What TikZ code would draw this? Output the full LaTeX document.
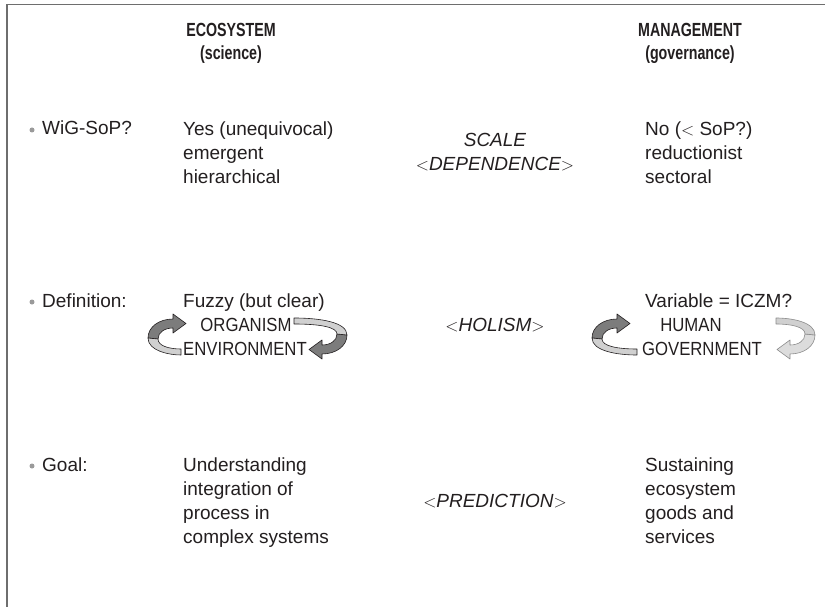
\documentclass[tikz,border=0pt]{standalone}
\usepackage{fontspec}
\setmainfont{Liberation Sans}
\definecolor{ink}{HTML}{231F20}
\definecolor{framegray}{HTML}{6E6E6E}
\definecolor{dotgray}{HTML}{9A9A9A}
\definecolor{ribdark}{HTML}{7C7C7C}
\definecolor{riblight}{HTML}{D0D0D0}
\definecolor{ribpale}{HTML}{DCDCDC}
\definecolor{ribedge}{HTML}{8C8C8C}
\tikzset{
  % curved ribbon arrow: #1 upper band, #2 lower band, #3 outline,
  % #4 x where the tail of the lower band ends
  pics/ribbon/.style n args={4}{code={
    \filldraw[fill=#1, draw=#3, line width=0.6pt, line join=round]
      (0,-18) .. controls (-14,-18) and (-25,-10) .. (-25,1)
      -- (-15,2) .. controls (-15,-5) and (-8,-9) .. (0,-9)
      -- (0,-4) -- (13,-13.5) -- (0,-23) -- cycle;
    \filldraw[fill=#2, draw=#3, line width=0.6pt, line join=round]
      (-25,1) .. controls (-25,14) and ({0.3*#4-6},18) .. (#4,18)
      -- (#4,12) .. controls ({0.3*#4-6},12) and (-15,9) .. (-15,2)
      -- cycle;
  }}
}
\begin{document}
\begin{tikzpicture}[x=1pt,y=-1pt,
  txt/.style={inner sep=0pt, anchor=base west, align=left, text=ink,
    font=\fontsize{19}{24}\selectfont},
  mid/.style={inner sep=0pt, anchor=base, align=center, text=ink,
    font=\fontsize{19}{24}\selectfont\itshape},
  pair/.style={inner sep=0pt, anchor=base, text=ink,
    font=\fontsize{19}{24}\selectfont},
  head/.style={inner sep=0pt, anchor=base, align=center, text=ink,
    font=\fontsize{19}{23}\selectfont\bfseries},
  bullet/.style={circle, fill=dotgray, inner sep=0pt, minimum size=5pt}
]
\useasboundingbox (0,0) rectangle (825,607);
\fill[white] (0,0) rectangle (825,607);
% frame on top and left
\draw[framegray, line width=1.4pt] (825,4.5) -- (7,4.5) -- (7,607);

% column headings (baseline given for the last line)
\node[head] (ecohead) at (231,60)
  {\scalebox{0.75}[1]{ECOSYSTEM}\\\scalebox{0.75}[1]{(science)}};
\node[head] (mgmthead) at (690,60)
  {\scalebox{0.75}[1]{MANAGEMENT}\\\scalebox{0.75}[1]{(governance)}};

% row 1
\node[bullet] (b1) at (32,130) {};
\node[txt] (q1) at (42,135) {WiG-SoP?};
\node[txt] (eco1) at (183,183) {Yes (unequivocal)\\emergent\\hierarchical};
\node[mid] (scale) at (495,171) {SCALE\\$<$DEPENDENCE$>$};
\node[txt] (mgmt1) at (645,183) {No ($<$ SoP?)\\reductionist\\sectoral};

% row 2
\node[bullet] (b2) at (32,302) {};
\node[txt] (q2) at (42,307) {Definition:};
\node[txt] (eco2) at (183,307) {Fuzzy (but clear)};
\node[pair] (organism) at (246,331) {\scalebox{0.88}[1]{ORGANISM}};
\node[pair] (environment) at (245,355) {\scalebox{0.88}[1]{ENVIRONMENT}};
\node[mid] (holism) at (495,331) {$<$HOLISM$>$};
\node[txt] (mgmt2) at (645,307) {Variable = ICZM?};
\node[pair] (human) at (691,331) {\scalebox{0.88}[1]{HUMAN}};
\node[pair] (government) at (702,355) {\scalebox{0.88}[1]{GOVERNMENT}};
\pic at (173,337) {ribbon={ribdark}{riblight}{ink}{8}};
\pic[rotate=180] at (322,336) {ribbon={ribdark}{riblight}{ink}{28}};
\pic at (617,337) {ribbon={ribdark}{riblight}{ink}{20}};
\pic[rotate=180] at (790,336) {ribbon={ribpale}{riblight}{ribedge}{14}};

% row 3
\node[bullet] (b3) at (32,466) {};
\node[txt] (q3) at (42,471) {Goal:};
\node[txt] (eco3) at (183,543)
  {Understanding\\integration of\\process in\\complex systems};
\node[mid] (prediction) at (495,507) {$<$PREDICTION$>$};
\node[txt] (mgmt3) at (645,543) {Sustaining\\ecosystem\\goods and\\services};
\end{tikzpicture}
\end{document}
